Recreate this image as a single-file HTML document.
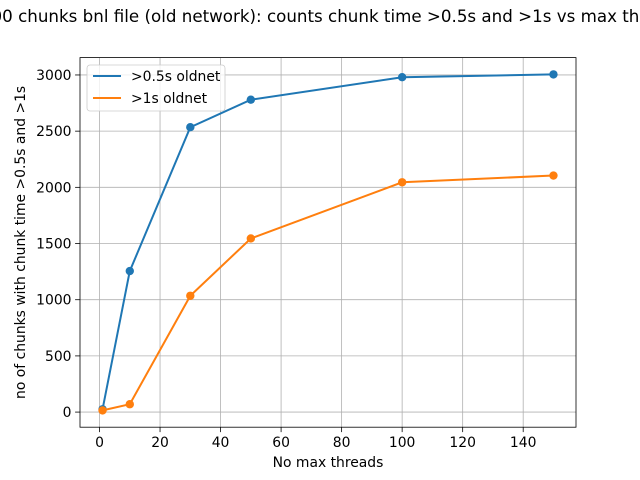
<!DOCTYPE html>
<html><head><meta charset="utf-8"><style>
body{margin:0;background:#fff}
svg{display:block;font-family:"DejaVu Sans","Liberation Sans",sans-serif}
</style></head><body>
<svg id="chart" width="640" height="480" viewBox="0 0 640 480"></svg>
<script>
const xValues=[1,10,30,50,100,150];
const seriesHalf=[25,1255,2535,2780,2980,3005];
const seriesOne=[15,70,1035,1545,2045,2105];
const xTicks=[0,20,40,60,80,100,120,140];
const yTicks=[0,500,1000,1500,2000,2500,3000];
const seriesNames=[">0.5s oldnet",">1s oldnet"];
const colors=["#1f77b4","#ff7f0e"];

const svg=document.getElementById('chart');
const NS='http://www.w3.org/2000/svg';
const L=80,R=576,T=57.6,B=427.2;
function mk(tag,attrs,parent){const e=document.createElementNS(NS,tag);for(const k in attrs)e.setAttribute(k,attrs[k]);(parent||svg).appendChild(e);return e;}
const xmin0=Math.min(...xValues),xmax0=Math.max(...xValues),xm=(xmax0-xmin0)*0.05;
const all=seriesHalf.concat(seriesOne);
const ymin0=Math.min(...all),ymax0=Math.max(...all),ym=(ymax0-ymin0)*0.05;
const X=v=>L+(v-(xmin0-xm))/((xmax0+xm)-(xmin0-xm))*(R-L);
const Y=v=>B-(v-(ymin0-ym))/((ymax0+ym)-(ymin0-ym))*(B-T);

const grid=mk('g',{});


xTicks.forEach(t=>{
  mk('line',{x1:X(t),x2:X(t),y1:T,y2:B,stroke:'#b0b0b0','stroke-width':0.8},grid);
  mk('line',{x1:X(t),x2:X(t),y1:B,y2:B+4.9,stroke:'#000','stroke-width':0.8});
  const tx=mk('text',{x:X(t),y:B+20,'text-anchor':'middle','font-size':13.9});
  tx.textContent=t;
  
  
});
yTicks.forEach(t=>{
  mk('line',{x1:L-4.9,x2:L,y1:Y(t),y2:Y(t),stroke:'#000','stroke-width':0.8});
  mk('line',{x1:L,x2:R,y1:Y(t),y2:Y(t),stroke:'#b0b0b0','stroke-width':0.8},grid);
  const tx=mk('text',{x:L-8.5,y:Y(t)+5,'text-anchor':'end','font-size':13.9});
  tx.textContent=t;
  
  
});
[seriesHalf,seriesOne].forEach((s,i)=>{
  const g=mk('g',{});
  
  
  mk('polyline',{points:s.map((v,j)=>X(xValues[j])+','+Y(v)).join(' '),fill:'none',stroke:colors[i],'stroke-width':2},g);
  s.forEach((v,j)=>{
    const c=mk('circle',{cx:X(xValues[j]),cy:Y(v),r:4.2,fill:colors[i]},g);
    
    
  });
});
const frame=mk('rect',{x:L,y:T,width:R-L,height:B-T,fill:'none',stroke:'#000','stroke-width':0.8});



const lg=mk('g',{});


mk('rect',{x:87,y:65,width:138,height:46,rx:3,fill:'#fff','fill-opacity':0.8,stroke:'#ccc','stroke-width':0.8},lg);
seriesNames.forEach((n,i)=>{
  const y=76+i*22;
  mk('line',{x1:93,x2:121,y1:y,y2:y,stroke:colors[i],'stroke-width':2},lg);
  const t=mk('text',{x:131,y:y+5,'font-size':13.9},lg);
  t.textContent=n;
  
  
});

const title=mk('text',{x:328,y:22,'text-anchor':'middle','font-size':16.7});
title.textContent='1000 chunks bnl file (old network): counts chunk time >0.5s and >1s vs max threads';


const xt=mk('text',{x:(L+R)/2,y:467,'text-anchor':'middle','font-size':13.9});
xt.textContent='No max threads';


const yt=mk('text',{x:0,y:0,'text-anchor':'middle','font-size':13.9,transform:'translate(25,'+((T+B)/2)+') rotate(-90)'});
yt.textContent='no of chunks with chunk time >0.5s and >1s';


</script>
</body></html>
